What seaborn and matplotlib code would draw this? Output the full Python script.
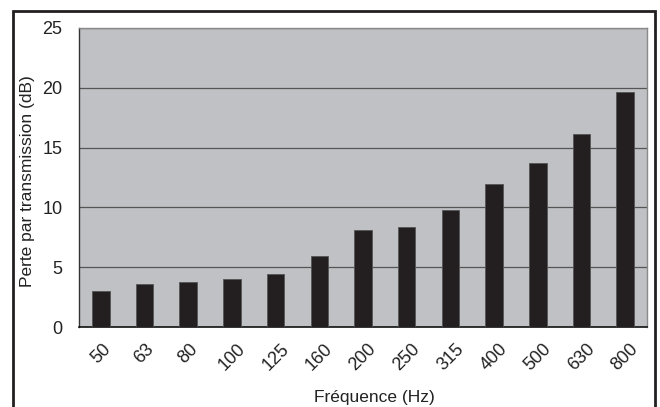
import matplotlib
matplotlib.use("Agg")
import matplotlib.pyplot as plt
import matplotlib.transforms as mtransforms
import seaborn as sns
import pandas as pd
import numpy as np
from matplotlib.patches import Rectangle

frequencies = ["50", "63", "80", "100", "125", "160", "200", "250", "315", "400", "500", "630", "800"]
loss_db = [3.0, 3.6, 3.75, 4.0, 4.4, 5.95, 8.1, 8.35, 9.75, 11.95, 13.75, 16.15, 19.65]
y_ticks = [0, 5, 10, 15, 20, 25]

df = pd.DataFrame({"freq": frequencies, "loss": loss_db})

sns.set_style("white")
plt.rcParams["font.family"] = ["Liberation Sans", "DejaVu Sans"]

fig = plt.figure(figsize=(6.6, 4.07), dpi=100)
ax = fig.add_axes([79/660, 1-327/407, (647-79)/660, (327-28)/407])
ax.set_facecolor("#c0c1c5")

sns.barplot(data=df, x="freq", y="loss", color="#231f20", width=0.4,
            saturation=1, ax=ax, zorder=3, edgecolor="#555555", linewidth=0.6)

ax.set_ylim(0, 25)
ax.set_xlim(-0.5, len(frequencies) - 0.5)
ax.set_yticks(y_ticks)
ax.yaxis.grid(True, color="#555555", linewidth=0.9, zorder=1)
ax.set_axisbelow(True)

ax.set_xticks(range(len(frequencies)))
ax.set_xticklabels(frequencies, rotation=45, ha="center", fontsize=13, color="#222222")
shift = mtransforms.ScaledTranslation(-6/100, 0, fig.dpi_scale_trans)
for lbl in ax.get_xticklabels():
    lbl.set_transform(lbl.get_transform() + shift)
ax.set_xticks(np.arange(-0.5, len(frequencies)), minor=True)
ax.tick_params(axis="x", which="major", length=0, pad=10)
ax.tick_params(axis="x", which="minor", length=5, width=0.9, color="#333333", direction="out")
ax.tick_params(axis="y", length=4, width=0.9, color="#333333", direction="out", labelsize=13, labelcolor="#222222", pad=8)

for side in ["top", "right"]:
    ax.spines[side].set_color("#8a8a8a")
    ax.spines[side].set_linewidth(1.0)
ax.spines["left"].set_color("#333333")
ax.spines["bottom"].set_color("#111111")
ax.spines["left"].set_linewidth(1.0)
ax.spines["bottom"].set_linewidth(1.2)

ax.set_xlabel("Fréquence (Hz)", fontsize=12.5, color="#222222")
ax.set_ylabel("Perte par transmission (dB)", fontsize=12.5, color="#222222")
ax.xaxis.set_label_coords((374.5-79)/568, (327-390)/299)
ax.yaxis.set_label_coords((35-79)/568, (327-181)/299)

border = Rectangle((12.5/660, -0.05), (655-12.5)/660, 1.05 - 10.5/407,
                   transform=fig.transFigure, fill=False, edgecolor="#231f20",
                   linewidth=2.0, clip_on=False)
fig.patches.append(border)

fig.savefig("out.png", dpi=100)
